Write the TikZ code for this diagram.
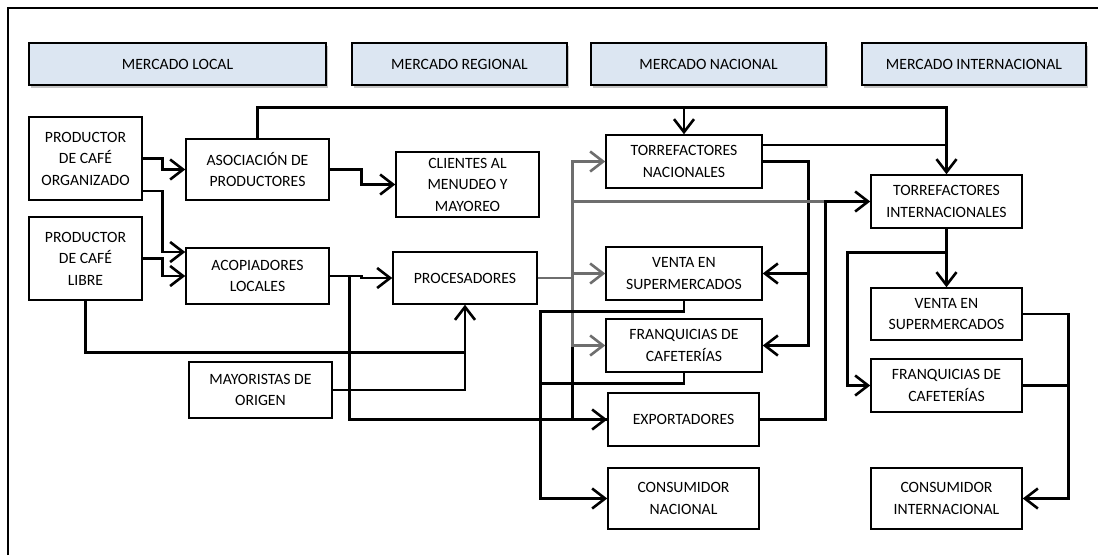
\documentclass[tikz,border=0pt]{standalone}
\usepackage{fontspec}
\setmainfont{Carlito}
\usetikzlibrary{arrows.meta,shadows}
\definecolor{hdrfill}{HTML}{DCE6F2}
\definecolor{grayline}{HTML}{6E6E6E}
\begin{document}
\begin{tikzpicture}[x=1pt,y=-1pt,
  box/.style={draw, line width=1.5pt, align=center, inner sep=0pt,
    font=\fontsize{15.7}{21.5}\selectfont},
  hdr/.style={box, fill=hdrfill, minimum height=42pt,
    drop shadow={shadow xshift=2pt, shadow yshift=-3pt, fill=black!45}},
  conn/.style={line width=2.6pt, draw=black},
  arr/.style={conn, -{Straight Barb[length=13pt,width=20pt]}},
  gconn/.style={line width=2.6pt, draw=grayline},
  garr/.style={gconn, -{Straight Barb[length=13pt,width=20pt]}}
]
\useasboundingbox (0,0) rectangle (1098,555);
\fill[white] (0,0) rectangle (1098,555);
% frame
\draw[line width=1.4pt] (8,555) -- (8,8) -- (1098,8);

% headers
\node[hdr, minimum width=297pt] (h1) at (177.5,64) {MERCADO LOCAL};
\node[hdr, minimum width=215pt] (h2) at (459.5,64) {MERCADO REGIONAL};
\node[hdr, minimum width=235pt] (h3) at (708.5,64) {MERCADO NACIONAL};
\node[hdr, minimum width=224pt] (h4) at (974,64) {MERCADO INTERNACIONAL};

% nodes
\node[box, minimum width=113pt, minimum height=83pt] (porg) at (85.5,158.5) {PRODUCTOR\\DE CAFÉ\\ORGANIZADO};
\node[box, minimum width=113pt, minimum height=83pt] (plib) at (85.5,258.5) {PRODUCTOR\\DE CAFÉ\\LIBRE};
\node[box, minimum width=143pt, minimum height=61pt] (asoc) at (257.5,169.5) {ASOCIACIÓN DE\\PRODUCTORES};
\node[box, minimum width=143pt, minimum height=56pt] (acop) at (257.5,276) {ACOPIADORES\\LOCALES};
\node[box, minimum width=143pt, minimum height=65pt] (clie) at (467.5,184.5) {CLIENTES AL\\MENUDEO Y\\MAYOREO};
\node[box, minimum width=144pt, minimum height=52pt] (proc) at (465,278) {PROCESADORES};
\node[box, minimum width=143pt, minimum height=56pt] (may) at (260.5,390) {MAYORISTAS DE\\ORIGEN};
\node[box, minimum width=156pt, minimum height=53pt] (tnac) at (684,161.5) {TORREFACTORES\\NACIONALES};
\node[box, minimum width=156pt, minimum height=53pt] (vnac) at (684,273.5) {VENTA EN\\SUPERMERCADOS};
\node[box, minimum width=156pt, minimum height=53pt] (fnac) at (684,345.5) {FRANQUICIAS DE\\CAFETERÍAS};
\node[box, minimum width=151pt, minimum height=53pt] (expo) at (683.5,419.5) {EXPORTADORES};
\node[box, minimum width=151pt, minimum height=61pt] (cnac) at (683.5,498.5) {CONSUMIDOR\\NACIONAL};
\node[box, minimum width=151pt, minimum height=53pt] (tint) at (946.5,201.5) {TORREFACTORES\\INTERNACIONALES};
\node[box, minimum width=151pt, minimum height=52pt] (vint) at (946.5,314) {VENTA EN\\SUPERMERCADOS};
\node[box, minimum width=151pt, minimum height=53pt] (fint) at (946.5,385.5) {FRANQUICIAS DE\\CAFETERÍAS};
\node[box, minimum width=151pt, minimum height=61pt] (cint) at (946.5,498.5) {CONSUMIDOR\\INTERNACIONAL};

% left side connectors
\draw[arr] (porg.east) -| ([xshift=-23pt]asoc.west) -- (asoc.west);
\draw[arr] ([yshift=-32.5pt]porg.east) -| ([xshift=-23pt,yshift=24pt]acop.west) -- ([yshift=24pt]acop.west);
\draw[arr] (plib.east) -| ([xshift=-23pt]acop.west) -- (acop.west);
\draw[arr] (plib.south) |- ([yshift=-48pt]proc.south) -- (proc.south);
\draw[conn] (may.east) -| ([yshift=-48pt]proc.south);
\draw[arr] (asoc.east) -| ([xshift=-34pt]clie.west) -- (clie.west);
\draw[arr] (acop.east) -| ([xshift=-31pt]proc.west) -- (proc.west);
\draw[arr] ([xshift=20pt]acop.east) |- (expo.west);

% top line from asociacion
\coordinate (t1) at ([yshift=31pt]asoc.north);
\draw[arr] (asoc.north) -- (t1) -| (tint.north);
\draw[arr] (tnac.north |- t1) -- (tnac.north);
\draw[conn] ([yshift=16.5pt]tnac.east) -- ([yshift=16.5pt]tnac.east -| tint.north);

% torrefactores nacionales to venta / franquicias
\draw[arr] (tnac.east) -| ([xshift=46pt]fnac.east) -- (fnac.east);
\draw[arr] ([xshift=46pt]vnac.east) -- (vnac.east);

% procesadores network
\coordinate (gx) at ([xshift=35pt]proc.east);
\draw[conn] (gx) |- (expo.west);
\draw[gconn] (proc.east) -- (gx);
\draw[garr] (gx) |- (tnac.west);
\draw[garr] (gx) |- (fnac.west);
\draw[garr] (gx |- vnac.west) -- (vnac.west);
\draw[gconn] (gx |- tint.west) -- ([xshift=-45pt]tint.west);

% exportadores to torrefactores internacionales
\draw[arr] (expo.east) -| ([xshift=-45pt]tint.west) -- (tint.west);

% consumidor nacional
\coordinate (cl) at ([xshift=-67pt]cnac.west);
\draw[arr] (vnac.south) -- ++(0,11) -| (cl) -- (cnac.west);
\draw[conn] (fnac.south) -- ++(0,11) -| (cl);

% international
\coordinate (cr) at ([xshift=46pt]cint.east);
\draw[arr] (tint.south) -- (vint.north);
\draw[arr] ([yshift=-24pt]tint.south) -| ([xshift=-23pt]fint.west) -- (fint.west);
\draw[arr] (vint.east) -| (cr) -- (cint.east);
\draw[conn] (fint.east) -- (fint.east -| cr);
\end{tikzpicture}
\end{document}
